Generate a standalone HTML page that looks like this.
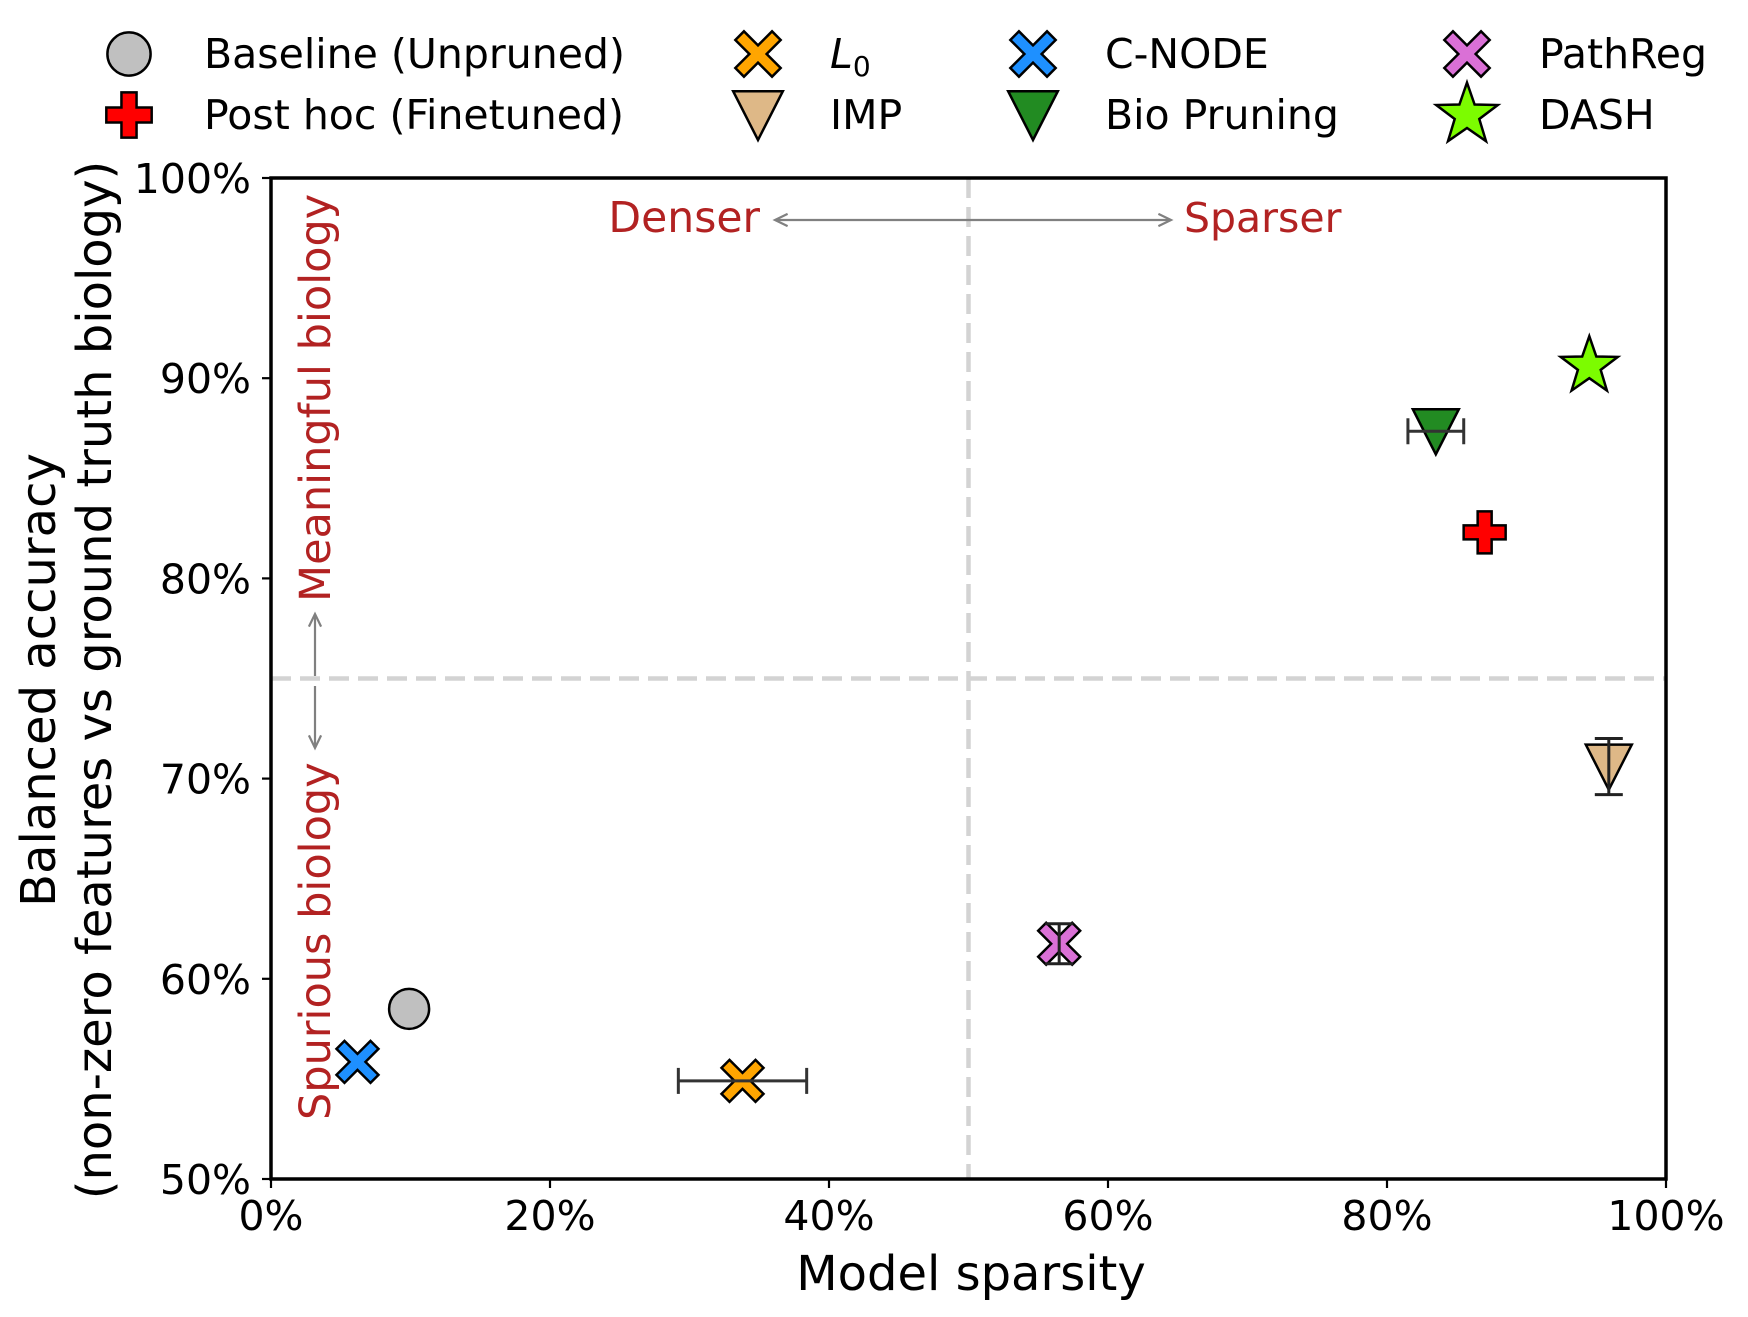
<!DOCTYPE html>
<html><head><meta charset="utf-8"><style>
html,body{margin:0;padding:0;background:#fff;}
svg{display:block;font-family:"DejaVu Sans","Liberation Sans",sans-serif;}
</style></head><body>
<svg id="chart" width="1748" height="1317" viewBox="0 0 1748 1317">
<g id="grid"></g>
<g id="annot"></g>
<g id="marks"></g>
<g id="axes"></g>
<g id="legend"></g>
</svg>
<script>
const methods = ["Baseline (Unpruned)","Post hoc (Finetuned)","L0","IMP","C-NODE","Bio Pruning","PathReg","DASH"];
const sparsity = [9.9, 87.0, 33.8, 95.9, 6.2, 83.5, 56.5, 94.5];
const accuracy = [58.5, 82.3, 54.9, 70.6, 55.85, 87.35, 61.75, 90.6];
const xErr = [0, 0, 4.6, 0, 0, 2.0, 0, 0];
const yErr = [0, 0, 0, 1.4, 0, 0, 1.0, 0];
const xTicks = [0,20,40,60,80,100];
const yTicks = [50,60,70,80,90,100];
const xTickLabels = ["0%","20%","40%","60%","80%","100%"];
const yTickLabels = ["50%","60%","70%","80%","90%","100%"];

const NS="http://www.w3.org/2000/svg";
const L=271,R=1666,T=178,B=1179;
const xs=v=>L+(v-0)/(100-0)*(R-L);
const ys=v=>B-(v-50)/(100-50)*(B-T);
function mk(tag,attrs,parent){const e=document.createElementNS(NS,tag);for(const k in attrs)e.setAttribute(k,attrs[k]);parent.appendChild(e);return e;}
const styles=[
 {shape:"circle",fill:"#c0c0c0"},
 {shape:"plus",fill:"#ff0000"},
 {shape:"x",fill:"#ffa500"},
 {shape:"tri",fill:"#deb887"},
 {shape:"x",fill:"#1e90ff"},
 {shape:"tri",fill:"#228b22"},
 {shape:"x",fill:"#da70d6"},
 {shape:"star",fill:"#7cfc00"}
];
function marker(shape,fill,cx,cy,parent,s){
 s=s||1;let e;
 const st={fill:fill,stroke:"#000","stroke-width":2.5,"stroke-linejoin":"miter"};
 if(shape==="circle"){e=mk("circle",Object.assign({cx:cx,cy:cy,r:20*s},st),parent);}
 else if(shape==="plus"){const a=7*s,b=21*s;
  const p=[[-a,-b],[a,-b],[a,-a],[b,-a],[b,a],[a,a],[a,b],[-a,b],[-a,a],[-b,a],[-b,-a],[-a,-a]];
  e=mk("polygon",Object.assign({points:p.map(q=>(cx+q[0])+","+(cy+q[1])).join(" ")},st),parent);}
 else if(shape==="x"){const a=8*s,b=21*s,c=b-a;
  const p=[[0,-a],[c,-b],[b,-c],[a,0],[b,c],[c,b],[0,a],[-c,b],[-b,c],[-a,0],[-b,-c],[-c,-b]];
  e=mk("polygon",Object.assign({points:p.map(q=>(cx+q[0])+","+(cy+q[1])).join(" ")},st),parent);}
 else if(shape==="tri"){const w=23*s,h=22*s;
  e=mk("polygon",Object.assign({points:`${cx-w},${cy-h} ${cx+w},${cy-h} ${cx},${cy+h*1.05}`},st),parent);}
 else {const pts=[];for(let i=0;i<10;i++){const r=i%2?12*s:30*s;const a=-Math.PI/2+i*Math.PI/5;pts.push((cx+r*Math.cos(a)).toFixed(1)+","+(cy+r*Math.sin(a)).toFixed(1));}
  e=mk("polygon",Object.assign({points:pts.join(" ")},st),parent);}
 return e;
}
const grid=document.getElementById("grid");
let l1=mk("line",{x1:xs(50),x2:xs(50),y1:T,y2:B,stroke:"#d3d3d3","stroke-width":4.5,"stroke-dasharray":"20 9"},grid);


let l2=mk("line",{x1:L,x2:R,y1:ys(75),y2:ys(75),stroke:"#d3d3d3","stroke-width":4.5,"stroke-dasharray":"20 9"},grid);



const an=document.getElementById("annot");
function arrow(x1,y1,x2,y2,name){
 const g=mk("g",{},an);
 
 
 mk("line",{x1:x1,y1:y1,x2:x2,y2:y2,stroke:"#808080","stroke-width":2.2},g);
 const ang=Math.atan2(y2-y1,x2-x1),h=14;
 const p1=[x2-h*Math.cos(ang-0.45),y2-h*Math.sin(ang-0.45)],p2=[x2-h*Math.cos(ang+0.45),y2-h*Math.sin(ang+0.45)];
 mk("polyline",{points:`${p1} ${x2},${y2} ${p2}`,fill:"none",stroke:"#808080","stroke-width":2.2},g);
}
arrow(969,220,775,220,"denser-arrow");
arrow(969,220,1171,220,"sparser-arrow");
arrow(315,676,315,614,"meaningful-arrow");
arrow(315,686,315,748,"spurious-arrow");
function txt(s,attrs,parent,name){const t=mk("text",attrs,parent);t.textContent=s;return t;}
txt("Denser",{x:760,y:232,"text-anchor":"end","font-size":42.5,fill:"#b22222"},an,"denser-label");
txt("Sparser",{x:1184,y:232,"font-size":41,fill:"#b22222"},an,"sparser-label");
txt("Meaningful biology",{transform:"translate(330,602) rotate(-90)","font-size":43,fill:"#b22222"},an,"meaningful-biology-label");
txt("Spurious biology",{transform:"translate(330,1120) rotate(-90)","font-size":43,fill:"#b22222"},an,"spurious-biology-label");

const marks=document.getElementById("marks");
for(let i=0;i<methods.length;i++){
 const g=mk("g",{},marks);
 
 
 const cx=xs(sparsity[i]),cy=ys(accuracy[i]);
 marker(styles[i].shape,styles[i].fill,cx,cy,g);
 if(xErr[i]>0){const a=xs(sparsity[i]-xErr[i]),b=xs(sparsity[i]+xErr[i]);
  mk("line",{x1:a,x2:b,y1:cy,y2:cy,stroke:"#333","stroke-width":3},g);
  mk("line",{x1:a,x2:a,y1:cy-13,y2:cy+13,stroke:"#333","stroke-width":3},g);
  mk("line",{x1:b,x2:b,y1:cy-13,y2:cy+13,stroke:"#333","stroke-width":3},g);}
 if(yErr[i]>0){const a=ys(accuracy[i]-yErr[i]),b=ys(accuracy[i]+yErr[i]);
  mk("line",{x1:cx,x2:cx,y1:a,y2:b,stroke:"#222","stroke-width":3},g);
  mk("line",{x1:cx-14,x2:cx+14,y1:a,y2:a,stroke:"#222","stroke-width":3},g);
  mk("line",{x1:cx-14,x2:cx+14,y1:b,y2:b,stroke:"#222","stroke-width":3},g);}
}

const ax=document.getElementById("axes");
let fr=mk("rect",{x:L,y:T,width:R-L,height:B-T,fill:"none",stroke:"#000","stroke-width":3.5},ax);


xTicks.forEach((v,i)=>{const x=xs(v);mk("line",{x1:x,x2:x,y1:B,y2:B+9,stroke:"#000","stroke-width":2.2},ax);
 txt(xTickLabels[i],{x:x,y:1230,"text-anchor":"middle","font-size":41},ax,"x-tick-label");});
yTicks.forEach((v,i)=>{const y=ys(v);mk("line",{x1:L-9,x2:L,y1:y,y2:y,stroke:"#000","stroke-width":2.2},ax);
 txt(yTickLabels[i],{x:251,y:y+15,"text-anchor":"end","font-size":41},ax,"y-tick-label");});
txt("Model sparsity",{x:971,y:1290,"text-anchor":"middle","font-size":48},ax,"x-axis-title");
txt("Balanced accuracy",{transform:"translate(55,680) rotate(-90)","text-anchor":"middle","font-size":48},ax,"y-axis-title");
txt("(non-zero features vs ground truth biology)",{transform:"translate(111,680) rotate(-90)","text-anchor":"middle","font-size":48},ax,"y-axis-subtitle");

const lg=document.getElementById("legend");
const legPos=[[129,54],[129,115],[758,54],[758,115],[1033,54],[1033,115],[1467,54],[1467,115]];
const legOrder=[0,1,2,3,4,5,6,7];
legOrder.forEach((i,k)=>{
 const g=mk("g",{},lg);
 
 
 const [mx,my]=legPos[k];
 marker(styles[i].shape,styles[i].fill,mx,my,g,1.08);
 const t=mk("text",{x:mx+(k<2?75:72),y:my+14,"font-size":41},g);
 if(methods[i]==="L0"){t.innerHTML='<tspan font-style="italic">L</tspan><tspan font-size="28" dy="8">0</tspan>';}
 else t.textContent=methods[i];
});
</script>
</body></html>
